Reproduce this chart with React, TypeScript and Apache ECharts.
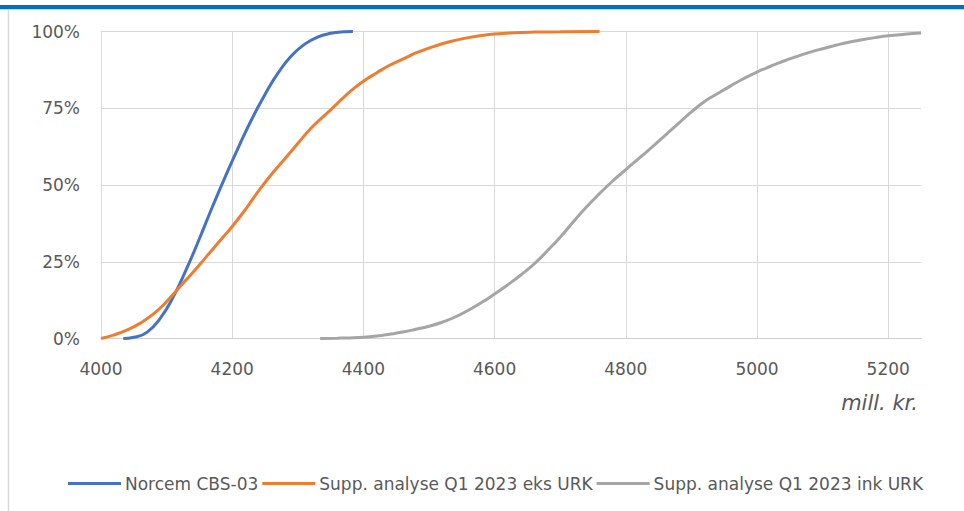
import React, { useEffect, useRef } from "react";
import * as echarts from "echarts";

const xTicks = [4000, 4200, 4400, 4600, 4800, 5000, 5200];
const yTicks = ["0%", "25%", "50%", "75%", "100%"];

const seriesNames = [
  "Norcem CBS-03",
  "Supp. analyse Q1 2023 eks URK",
  "Supp. analyse Q1 2023 ink URK",
];

const norcemX = [4034, 4050, 4070, 4090, 4110, 4130, 4150, 4170, 4190, 4210, 4230, 4250, 4270, 4290, 4310, 4330, 4350, 4370, 4384];
const norcemY = [0, 0.4, 2, 6.5, 13.5, 22.5, 32.5, 43, 53, 62.5, 71.5, 79.5, 86.5, 92, 95.8, 98.2, 99.4, 99.9, 100];

const eksX = [4000, 4020, 4040, 4060, 4080, 4100, 4120, 4140, 4160, 4180, 4200, 4220, 4240, 4260, 4280, 4300, 4320, 4340, 4360, 4380, 4400, 4420, 4440, 4460, 4480, 4500, 4520, 4540, 4560, 4580, 4600, 4630, 4660, 4700, 4760];
const eksY = [0, 1.2, 2.8, 5, 8, 12, 16.8, 21.5, 26.5, 31.5, 36.5, 42, 48, 53.5, 58.5, 63.5, 68.5, 72.5, 76.5, 80.5, 83.8, 86.5, 89, 91, 93, 94.6, 96, 97.1, 98, 98.7, 99.2, 99.6, 99.8, 99.9, 100];

const inkX = [4334, 4360, 4380, 4400, 4420, 4440, 4460, 4480, 4500, 4520, 4540, 4560, 4580, 4600, 4620, 4640, 4660, 4680, 4700, 4720, 4740, 4760, 4780, 4800, 4820, 4840, 4860, 4880, 4900, 4920, 4940, 4960, 4980, 5000, 5020, 5040, 5060, 5080, 5100, 5120, 5140, 5160, 5180, 5200, 5225, 5250];
const inkY = [0, 0.1, 0.2, 0.4, 0.8, 1.4, 2.1, 3, 4, 5.3, 7, 9.2, 11.7, 14.5, 17.5, 20.7, 24.2, 28.5, 33, 38, 42.8, 47.2, 51.3, 55, 58.7, 62.3, 66.2, 70, 73.8, 77.2, 79.8, 82.3, 84.7, 86.8, 88.6, 90.3, 91.8, 93.2, 94.4, 95.5, 96.5, 97.3, 98, 98.6, 99.1, 99.5];

const colors = ["#4472C4", "#ED7D31", "#A5A5A5"];

const FONT = "DejaVu Sans";
const TEXT = "#595959";

function pairs(xs: number[], ys: number[]) {
  return xs.map((x, i) => [x, ys[i]]);
}

export default function App() {
  const ref = useRef<HTMLDivElement>(null);
  useEffect(() => {
    if (!ref.current) return;
    const chart = echarts.init(ref.current, undefined, { renderer: "svg" });
    const datas = [pairs(norcemX, norcemY), pairs(eksX, eksY), pairs(inkX, inkY)];
    chart.setOption({
      animation: false,
      backgroundColor: "#ffffff",
      grid: { left: 101, right: 43, top: 31.5, bottom: 172.5, containLabel: false },
      xAxis: {
        type: "value",
        min: 4000,
        max: 5250,
        interval: 200,
        axisLine: { show: true, lineStyle: { color: "#CFCFCF", width: 1 } },
        axisTick: { show: false },
        splitLine: { show: true, showMaxLine: false, lineStyle: { color: "#D9D9D9", width: 1 } },
        axisLabel: {
          color: TEXT,
          fontFamily: FONT,
          fontSize: 17,
          margin: 22,
          showMaxLabel: false,
          formatter: (v: number) => (xTicks.includes(v) ? String(v) : ""),
        },
      },
      yAxis: {
        type: "value",
        min: 0,
        max: 100,
        interval: 25,
        axisLine: { show: false },
        axisTick: { show: false },
        splitLine: { show: true, lineStyle: { color: "#D9D9D9", width: 1 } },
        axisLabel: {
          color: TEXT,
          fontFamily: FONT,
          fontSize: 17,
          margin: 21,
          formatter: (v: number) => yTicks[Math.round(v / 25)] ?? "",
        },
      },
      legend: {
        left: 63,
        top: 470,
        icon: "rect",
        itemWidth: 53,
        itemHeight: 3,
        itemGap: 4,
        textStyle: { color: TEXT, fontFamily: FONT, fontSize: 17, padding: [0, 0, 0, -1] },
        data: seriesNames,
      },
      graphic: [
        {
          type: "rect",
          left: 0,
          top: 5,
          shape: { width: 964, height: 4.3 },
          style: { fill: "#0070C0" },
          silent: true,
        },
        {
          type: "line",
          shape: { x1: 8.5, y1: 10, x2: 8.5, y2: 511 },
          style: { stroke: "#D9D9D9", lineWidth: 1.5 },
          silent: true,
        },
        {
          type: "text",
          right: 46,
          top: 392,
          style: {
            text: "mill. kr.",
            fill: TEXT,
            font: `italic 21px "${FONT}"`,
          },
          silent: true,
        },
      ],
      series: datas.map((d, i) => ({
        name: seriesNames[i],
        type: "line",
        data: d,
        smooth: 0.5,
        showSymbol: false,
        symbol: "none",
        lineStyle: { color: colors[i], width: 3 },
        itemStyle: { color: colors[i] },
      })),
    });
    return () => chart.dispose();
  }, []);
  return (
    <div
      ref={ref}
      style={{ position: "absolute", left: 0, top: 0, width: 964, height: 511 }}
    />
  );
}
